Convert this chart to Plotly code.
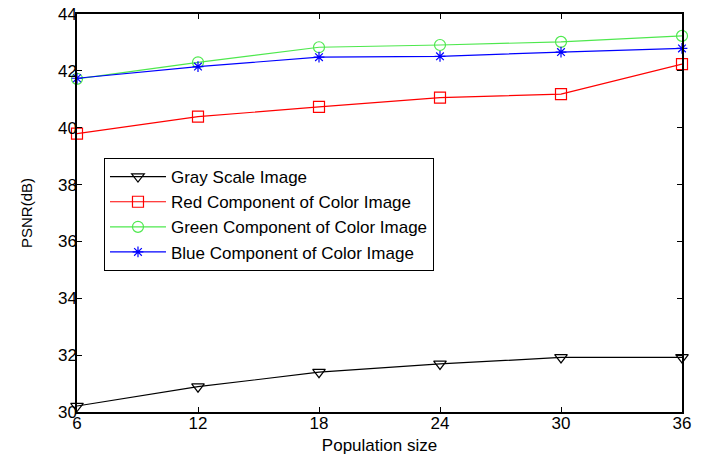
import plotly.graph_objects as go

pop_size = [6, 12, 18, 24, 30, 36]
gray_psnr = [30.21, 30.89, 31.40, 31.69, 31.92, 31.92]
red_psnr = [39.79, 40.39, 40.73, 41.06, 41.18, 42.24]
green_psnr = [41.72, 42.30, 42.83, 42.91, 43.02, 43.23]
blue_psnr = [41.74, 42.15, 42.48, 42.51, 42.66, 42.79]
series_names = ["Gray Scale Image", "Red Component of Color Image",
                "Green Component of Color Image", "Blue Component of Color Image"]
x_ticks = [6, 12, 18, 24, 30, 36]
y_ticks = [30, 32, 34, 36, 38, 40, 42, 44]

FONT = "Liberation Sans, Arial, sans-serif"

styles = [
    (gray_psnr, "black", "triangle-down-open", 11),
    (red_psnr, "#ff0000", "square-open", 11),
    (green_psnr, "#4ee84e", "circle-open", 11),
    (blue_psnr, "#0000ff", "asterisk-open", 9),
]

fig = go.Figure()
for name, (vals, col, sym, sz) in zip(series_names, styles):
    fig.add_trace(go.Scatter(
        x=pop_size, y=vals, name=name, mode="lines+markers",
        line=dict(color=col, width=1.2),
        marker=dict(symbol=sym, size=sz, color=col, line=dict(color=col, width=1.2)),
        cliponaxis=False,
    ))

axis_common = dict(
    showgrid=False, zeroline=False, showline=True, linecolor="black", linewidth=1.5,
    mirror="ticks", ticks="inside", ticklen=5, tickcolor="black", tickwidth=1,
    tickfont=dict(family=FONT, size=17, color="black"), automargin=False,
    ticklabelstandoff=-5, ticklabeloverflow="allow",
)

fig.update_layout(
    width=705, height=455,
    margin=dict(l=77, r=23, t=14, b=43),
    paper_bgcolor="white", plot_bgcolor="white",
    font=dict(family=FONT, color="black"),
    xaxis=dict(range=[6, 36], tickvals=x_ticks, ticktext=[str(v) for v in x_ticks],
               title=dict(text="Population size", font=dict(family=FONT, size=17), standoff=8),
               **axis_common),
    yaxis=dict(range=[30, 44], tickvals=y_ticks, ticktext=[str(v) for v in y_ticks],
               title=dict(text="PSNR(dB)", font=dict(family=FONT, size=15), standoff=22),
               **axis_common),
    legend=dict(x=0.0446, y=0.638, xanchor="left", yanchor="top",
                bgcolor="white", bordercolor="black", borderwidth=1,
                font=dict(family=FONT, size=17, color="black"),
                tracegroupgap=0, itemwidth=56),
    showlegend=True,
)

fig.write_html("out.html", config={"displayModeBar": False},
               post_script=["document.body.style.margin='0';document.body.style.overflow='hidden';"])
